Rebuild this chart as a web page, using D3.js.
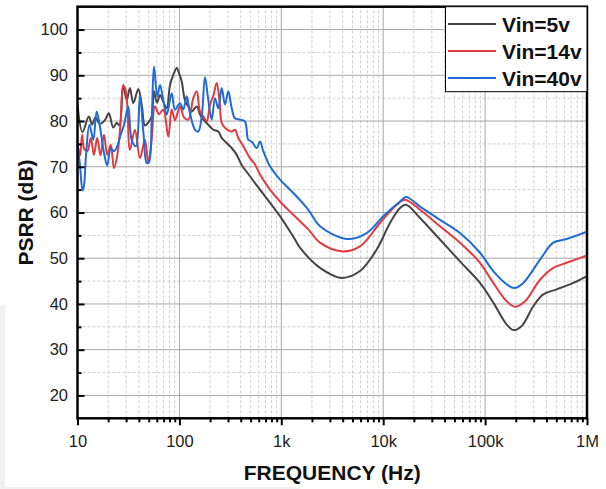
<!DOCTYPE html>
<html>
<head>
<meta charset="utf-8">
<script src="https://cdn.jsdelivr.net/npm/d3@7"></script>
<style>
  body { margin: 0; background: #fff; }
  svg { display: block; font-family: Arial, "Liberation Sans", sans-serif; }
</style>
</head>
<body>
<div id="chart"></div>
<script>
// PSRR vs frequency, three input voltages
var seriesNames = ['Vin=5v', 'Vin=14v', 'Vin=40v'];
var seriesColors = ['#454545', '#e23a3f', '#1f6bd8'];

// [frequency Hz, PSRR dB]
var vin5 = [
  [10, 83.6], [11.2, 77.6], [12.9, 81.0], [13.9, 79.2], [15.0, 80.8], [16.6, 79.4],
  [18.6, 80.2], [20.3, 81.7], [22.4, 78.6], [24.3, 79.6], [25.8, 79.0], [28.1, 87.9],
  [30.4, 84.6], [32.7, 87.2], [35.3, 83.9], [39.5, 87.0], [42.7, 83.6], [45.9, 79.0],
  [49.2, 79.6], [53.5, 81.0], [56.3, 86.5], [60.3, 84.0], [64.5, 85.7], [69.5, 84.2],
  [75, 82.8], [80.9, 87.9], [87.1, 90.1], [94.1, 91.6], [99.1, 90.5], [105.3, 88.7],
  [113.5, 84.5], [122.3, 83.2], [132, 82.1], [147.9, 83.2], [159, 81.5], [171.6, 80.3],
  [192.1, 79.2], [215.1, 78.1], [240.9, 77.7], [260, 76.3], [291, 75.2], [326, 74.1],
  [365, 72.6], [408, 70.4], [440, 69.4], [618, 65.0], [971, 59.2], [1362, 54.1],
  [1526, 52.3], [2399, 47.9], [3917, 45.7], [5918, 47.2], [8630, 51.9], [11660, 57.7],
  [14620, 61.0], [16750, 61.7], [22960, 58.8], [36060, 54.1], [56750, 49.3], [89100, 44.6],
  [120300, 40.3], [162900, 35.5], [189200, 34.3], [228600, 35.2], [297000, 39.5],
  [372400, 42.1], [504200, 43.2], [734500, 44.6], [1000000, 46.1]
];
var vin14 = [
  [10, 75.0], [10.6, 72.5], [11.1, 77.0], [11.6, 74.0], [12.5, 73.4], [13.5, 76.3],
  [14.5, 72.6], [15.6, 76.3], [16.8, 72.5], [18.2, 77.0], [19.6, 72.6], [21.2, 74.8],
  [22.8, 69.7], [24.6, 72.6], [26.5, 79.9], [28.1, 87.6], [29.3, 87.2], [30.8, 83.6],
  [32.7, 73.7], [36.6, 78.1], [41, 71.9], [45.9, 75.9], [49.5, 70.8], [53.5, 76.0],
  [57.5, 83.2], [63.1, 81.5], [69.5, 82.5], [77.8, 76.6], [84, 82.5], [90.5, 80.2],
  [101.4, 83.2], [111, 80.8], [122.3, 80.3], [136.8, 85.0], [147.9, 86.5], [159, 82.1],
  [172.4, 81.0], [185.4, 79.9], [199.6, 83.6], [215.1, 85.5], [232.4, 88.3], [247.5, 84.5],
  [260, 79.6], [280.3, 78.5], [302, 78.0], [326, 77.7], [351, 78.1], [378.5, 76.3],
  [424, 74.5], [493, 71.9], [552, 70.5], [618, 68.3], [775, 65.0], [971, 62.4],
  [1312, 59.5], [1841, 56.3], [2399, 53.4], [3917, 51.5], [5918, 52.6], [9290, 57.7],
  [13580, 61.7], [16370, 62.8], [22960, 60.6], [36060, 57.0], [56750, 53.4], [89100, 49.0],
  [120300, 44.6], [162900, 40.6], [196400, 39.4], [246600, 40.6], [346000, 45.3],
  [466800, 47.9], [631000, 49.0], [1000000, 50.6]
];
var vin40 = [
  [10, 75.2], [10.6, 70.1], [11.2, 64.8], [11.6, 66.0], [12.1, 72.3], [13.1, 79.2],
  [14.3, 75.9], [15.4, 82.1], [16.6, 78.8], [18.2, 73.0], [19.6, 70.3], [21.2, 74.0],
  [22.8, 73.4], [24.6, 74.5], [26.5, 77.0], [28.6, 79.2], [31.5, 83.2], [34, 75.9],
  [37.5, 74.5], [41, 85.4], [44.5, 77.0], [47.8, 70.8], [50.3, 71.0], [53.5, 80.3],
  [56.3, 91.9], [60.7, 85.4], [64.5, 87.9], [69.5, 84.6], [75, 81.4], [84, 86.1],
  [90.5, 82.5], [101.4, 83.9], [109.2, 82.5], [117.9, 85.4], [127, 81.7], [142.2, 78.1],
  [153.3, 77.7], [165.5, 81.0], [178.3, 89.6], [192.1, 84.6], [207.5, 80.3], [223.5, 85.0],
  [240.9, 82.8], [260, 87.2], [280.3, 83.6], [302, 86.5], [326, 82.8], [351, 80.6],
  [393.3, 80.3], [440, 79.9], [474, 75.9], [512, 75.5], [573.6, 74.1], [618, 75.5],
  [666, 73.4], [775, 70.1], [971, 67.2], [1130, 65.7], [1416, 63.5], [1841, 60.6],
  [2399, 57.0], [4385, 54.2], [6887, 55.5], [10020, 59.2], [14620, 62.4], [16750, 63.4],
  [22960, 61.3], [36060, 58.4], [56750, 55.5], [89100, 51.2], [120300, 47.2],
  [162900, 44.3], [193600, 43.5], [237000, 44.6], [346000, 49.7], [466800, 53.4],
  [631000, 54.2], [1000000, 55.8]
];

var xTickValues = [10, 100, 1000, 10000, 100000, 1000000];
var xTickLabels = ['10', '100', '1k', '10k', '100k', '1M'];
var yTickValues = [20, 30, 40, 50, 60, 70, 80, 90, 100];
var yMinorValues = [25, 35, 45, 55, 65, 75, 85, 95];

var width = 606, height = 489;
var margin = { left: 77.5, right: 19, top: 6.7, bottom: 70.7 };

var svg = d3.select('#chart').append('svg')
  .attr('width', width)
  .attr('height', height);

// faint backdrop strip seen at the page's lower-left
svg.append('path')
  .attr('d', 'M0,305 L5,305 L5,487 L300,487 L300,489 L0,489 Z')
  .attr('fill', '#f1f1f1');

var x = d3.scaleLog()
  .domain([10, 1e6])
  .range([margin.left, width - margin.right]);
var y = d3.scaleLinear()
  .domain([15, 105])
  .range([height - margin.bottom, margin.top]);

var x0 = x.range()[0], x1 = x.range()[1];
var y0 = y.range()[0], y1 = y.range()[1];

// minor x positions 2..9 in each decade
var minorX = [];
for (var e = 1; e < 6; e++) {
  for (var m = 2; m <= 9; m++) minorX.push(m * Math.pow(10, e));
}

var grid = svg.append('g');
grid.selectAll('.mx').data(minorX).enter().append('line')
  .attr('x1', function(d) { return x(d); })
  .attr('x2', function(d) { return x(d); })
  .attr('y1', y0).attr('y2', y1)
  .attr('stroke', '#cfcfcf')
  .attr('stroke-width', 1)
  .attr('stroke-dasharray', '3,2');
grid.selectAll('.my').data(yMinorValues).enter().append('line')
  .attr('x1', x0).attr('x2', x1)
  .attr('y1', function(d) { return y(d); })
  .attr('y2', function(d) { return y(d); })
  .attr('stroke', '#cfcfcf')
  .attr('stroke-width', 1)
  .attr('stroke-dasharray', '3,2');

// major grid
grid.selectAll('.Mx').data(xTickValues).enter().append('line')
  .attr('x1', function(d) { return x(d); })
  .attr('x2', function(d) { return x(d); })
  .attr('y1', y0).attr('y2', y1)
  .attr('stroke', '#a8a8a8')
  .attr('stroke-width', 1);
grid.selectAll('.My').data(yTickValues).enter().append('line')
  .attr('x1', x0).attr('x2', x1)
  .attr('y1', function(d) { return y(d); })
  .attr('y2', function(d) { return y(d); })
  .attr('stroke', '#a8a8a8')
  .attr('stroke-width', 1);

// curves
svg.append('clipPath').attr('id', 'clip')
  .append('rect')
  .attr('x', x0).attr('y', y1)
  .attr('width', x1 - x0).attr('height', y0 - y1);

var line = d3.line()
  .x(function(d) { return x(d[0]); })
  .y(function(d) { return y(d[1]); })
  .curve(d3.curveCatmullRom.alpha(0.5));

var allSeries = [vin5, vin14, vin40];
svg.append('g').attr('clip-path', 'url(#clip)')
  .selectAll('path').data(allSeries).enter().append('path')
  .attr('d', line)
  .attr('fill', 'none')
  .attr('stroke', function(d, i) { return seriesColors[i]; })
  .attr('stroke-width', 2)
  .attr('stroke-linejoin', 'round');

// axes
var xAxis = d3.axisBottom(x)
  .tickValues(xTickValues)
  .tickFormat(function(d, i) { return xTickLabels[i]; })
  .tickSize(7)
  .tickPadding(10);
var gx = svg.append('g')
  .attr('transform', 'translate(0,' + y0 + ')')
  .call(xAxis);
gx.select('.domain').remove();
gx.selectAll('line').attr('stroke', '#000').attr('stroke-width', 2);
gx.selectAll('text').attr('font-size', 16.5).attr('fill', '#222')
  .attr('font-family', 'Arial, "Liberation Sans", sans-serif');

var gxm = svg.append('g')
  .attr('transform', 'translate(0,' + y0 + ')')
  .call(d3.axisBottom(x).tickValues(minorX).tickSize(4).tickFormat(''));
gxm.select('.domain').remove();
gxm.selectAll('line').attr('stroke', '#000').attr('stroke-width', 2);

var yAxis = d3.axisRight(y)
  .tickValues(yTickValues)
  .tickSize(7)
  .tickFormat('');
var gy = svg.append('g')
  .attr('transform', 'translate(' + x0 + ',0)')
  .call(yAxis);
gy.select('.domain').remove();
gy.selectAll('line').attr('stroke', '#000').attr('stroke-width', 2);

var gym = svg.append('g')
  .attr('transform', 'translate(' + x0 + ',0)')
  .call(d3.axisRight(y).tickValues(yMinorValues).tickSize(4).tickFormat(''));
gym.select('.domain').remove();
gym.selectAll('line').attr('stroke', '#000').attr('stroke-width', 2);

svg.append('g').selectAll('text').data(yTickValues).enter().append('text')
  .attr('x', 68)
  .attr('y', function(d) { return y(d); })
  .attr('dy', '0.35em')
  .attr('text-anchor', 'end')
  .attr('font-size', 16.5)
  .attr('fill', '#222')
  .text(function(d) { return d; });

// frame
svg.append('rect')
  .attr('x', x0).attr('y', y1)
  .attr('width', x1 - x0).attr('height', y0 - y1)
  .attr('fill', 'none')
  .attr('stroke', '#000')
  .attr('stroke-width', 2.5);

// axis titles
svg.append('text')
  .attr('x', (x0 + x1) / 2)
  .attr('y', 480)
  .attr('text-anchor', 'middle')
  .attr('font-size', 21)
  .attr('font-weight', 'bold')
  .attr('fill', '#111')
  .text('FREQUENCY (Hz)');
svg.append('text')
  .attr('transform', 'translate(33,' + ((y0 + y1) / 2) + ') rotate(-90)')
  .attr('text-anchor', 'middle')
  .attr('font-size', 21)
  .attr('font-weight', 'bold')
  .attr('fill', '#111')
  .text('PSRR (dB)');

// legend
var lg = svg.append('g');
lg.append('rect')
  .attr('x', 445.5).attr('y', y1)
  .attr('width', x1 - 445.5).attr('height', 85)
  .attr('fill', '#fff')
  .attr('stroke', '#000')
  .attr('stroke-width', 1);
var items = lg.selectAll('g.item').data(seriesNames).enter().append('g')
  .attr('transform', function(d, i) { return 'translate(0,' + (24 + i * 27) + ')'; });
items.append('line')
  .attr('x1', 448).attr('x2', 496)
  .attr('stroke', function(d, i) { return seriesColors[i]; })
  .attr('stroke-width', 2);
items.append('text')
  .attr('x', 502)
  .attr('dy', '0.36em')
  .attr('font-size', 21)
  .attr('font-weight', 'bold')
  .attr('fill', '#111')
  .text(function(d) { return d; });
</script>
</body>
</html>
